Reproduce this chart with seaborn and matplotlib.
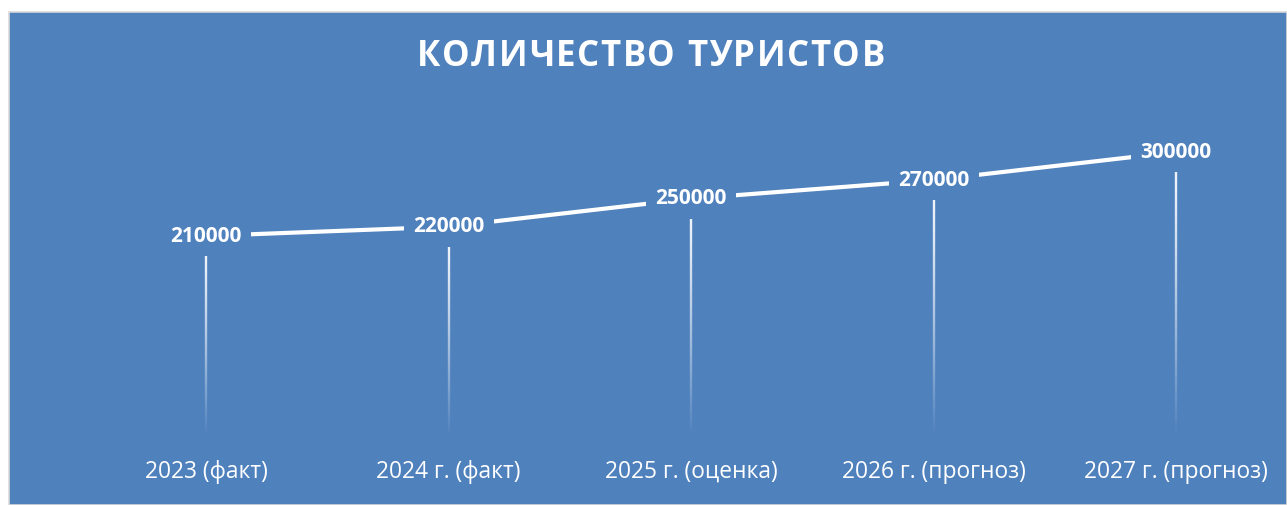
"""Line chart: number of tourists, fact and forecast."""

import matplotlib

matplotlib.use("Agg")
import matplotlib.pyplot as plt  # noqa: E402
import numpy as np  # noqa: E402
import seaborn as sns  # noqa: E402
from matplotlib.collections import LineCollection  # noqa: E402
from matplotlib.patches import Rectangle  # noqa: E402

CATEGORIES = [
    "2023 (факт)",
    "2024 г. (факт)",
    "2025 г. (оценка)",
    "2026 г. (прогноз)",
    "2027 г. (прогноз)",
]
TOURISTS = [210000, 220000, 250000, 270000, 300000]
TITLE = "КОЛИЧЕСТВО ТУРИСТОВ"

BLUE = "#4F81BD"
BORDER = "#D9D9D9"

sns.set_style("white")
plt.rcParams["font.family"] = ["Open Sans", "DejaVu Sans"]

W, H = 1287, 505
fig = plt.figure(figsize=(W / 100, H / 100), dpi=100, facecolor="white")

# blue chart panel with thin grey border
fig.patches.append(
    Rectangle(
        (9 / W, 0), (W - 9) / W, (H - 12) / H,
        transform=fig.transFigure, facecolor=BLUE, edgecolor=BORDER,
        linewidth=1.2, zorder=-10,
    )
)

ax = fig.add_axes([9 / W, (H - 432) / H, (W - 9) / W, 315 / H])
ax.set_facecolor("none")
ax.set_zorder(1)

x = np.arange(len(CATEGORIES))
sns.lineplot(x=x, y=TOURISTS, ax=ax, color="white", linewidth=3.0, zorder=3)

# drop lines fading out towards the axis
n_seg = 60
for xi, v in zip(x, TOURISTS):
    ys = np.linspace(v, -6000, n_seg + 1)
    segs = [[(xi, ys[k]), (xi, ys[k + 1])] for k in range(n_seg)]
    t = np.linspace(0, 1, n_seg)
    alphas = np.clip(1 - t ** 1.3, 0, 1) * 0.95
    colors = [(1, 1, 1, a) for a in alphas]
    ax.add_collection(LineCollection(segs, colors=colors, linewidths=1.7, zorder=2))

for xi, v in zip(x, TOURISTS):
    ax.text(
        xi, v, f"{v}", ha="center", va="center", color="white",
        fontsize=15, fontweight="bold", zorder=5,
        bbox=dict(boxstyle="square,pad=0.45", facecolor=BLUE, edgecolor="none"),
    )

ax.set_xlim((9 - 206) / 242.5, (W - 206) / 242.5)
ax.set_ylim(0, 337500)
ax.set_xticks(x)
ax.set_xticklabels(CATEGORIES, color="white", fontsize=16.4)
ax.set_yticks([])
ax.tick_params(axis="x", length=0, pad=20)
sns.despine(ax=ax, left=True, bottom=True)

# letter-spaced title, placed glyph by glyph
renderer = fig.canvas.get_renderer()
tracking = 1.6  # px between letters
title_kw = dict(color="white", fontsize=25, fontweight="bold", va="center")
widths = []
for ch in TITLE:
    probe = fig.text(0, 0, ch if ch != " " else "\u00a0", **title_kw)
    widths.append(probe.get_window_extent(renderer).width)
    probe.remove()
total = sum(widths) + tracking * (len(TITLE) - 1)
xpos = 651 - total / 2
for ch, w in zip(TITLE, widths):
    if ch != " ":
        fig.text(xpos / W, (H - 57) / H, ch, ha="left", **title_kw)
    xpos += w + tracking

fig.savefig("out.png", dpi=100, facecolor="white")
